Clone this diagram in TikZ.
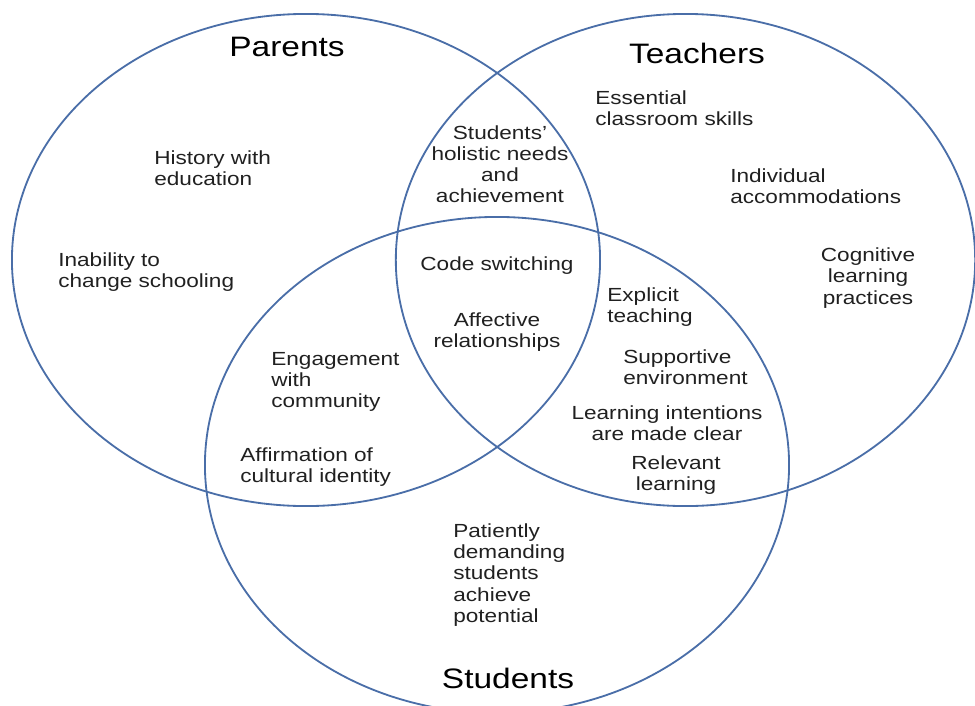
\documentclass[tikz,border=0pt]{standalone}
\usepackage{fontspec}
\setmainfont{Liberation Sans}
\definecolor{ringblue}{HTML}{4A6EA8}
\definecolor{txtgray}{HTML}{202020}
\begin{document}
\begin{tikzpicture}[x=0.025cm,y=-0.025cm,
		ring/.style={draw=ringblue,line width=1.3pt},
		title/.style={font=\fontsize{20pt}{24pt}\selectfont,text=black,xscale=1.19,inner sep=0pt},
		item/.style={font=\fontsize{13.5pt}{15pt}\selectfont,text=txtgray,xscale=1.19,inner sep=0pt,align=left,anchor=west},
		citem/.style={item,align=center,anchor=center}]
		\useasboundingbox (0,0) rectangle (975,705);
		% the three sets
		\draw[ring] (306,260) ellipse [x radius=7.35cm, y radius=6.15cm];
		\draw[ring] (685.5,260) ellipse [x radius=7.24cm, y radius=6.15cm];
		\draw[ring] (497,465) ellipse [x radius=7.3cm, y radius=6.2cm];
		\node[title] (par) at (287,47) {Parents};
		\node[title] (tea) at (697,53) {Teachers};
		\node[title] (stu) at (508,678) {Students};
		% parents only
		\node[item] (hist) at (154,168) {History with\\education};
		\node[item] (inab) at (58,272) {Inability to\\change schooling};
		% teachers only
		\node[item] (ess) at (595,108) {Essential\\classroom skills};
		\node[item] (indiv) at (730,186) {Individual\\accommodations};
		\node[citem] (cogn) at (868,278) {Cognitive\\learning\\practices};
		% students only
		\node[item] (pat) at (453,575) {Patiently\\demanding\\students\\achieve\\potential};
		% overlaps
		\node[citem] (holi) at (500,164) {Students'\\holistic needs\\and\\achievement};
		\node[citem] (code) at (497,266) {Code switching};
		\node[citem] (affe) at (497,332) {Affective\\relationships};
		\node[item] (expl) at (607,307) {Explicit\\teaching};
		\node[item] (supp) at (623,367) {Supportive\\environment};
		\node[citem] (lint) at (667,423) {Learning intentions\\are made clear};
		\node[citem] (rele) at (676,475) {Relevant\\learning};
		\node[item] (enga) at (271,382) {Engagement\\with\\community};
		\node[item] (affi) at (240,467) {Affirmation of\\cultural identity};
	\end{tikzpicture}
\end{document}
